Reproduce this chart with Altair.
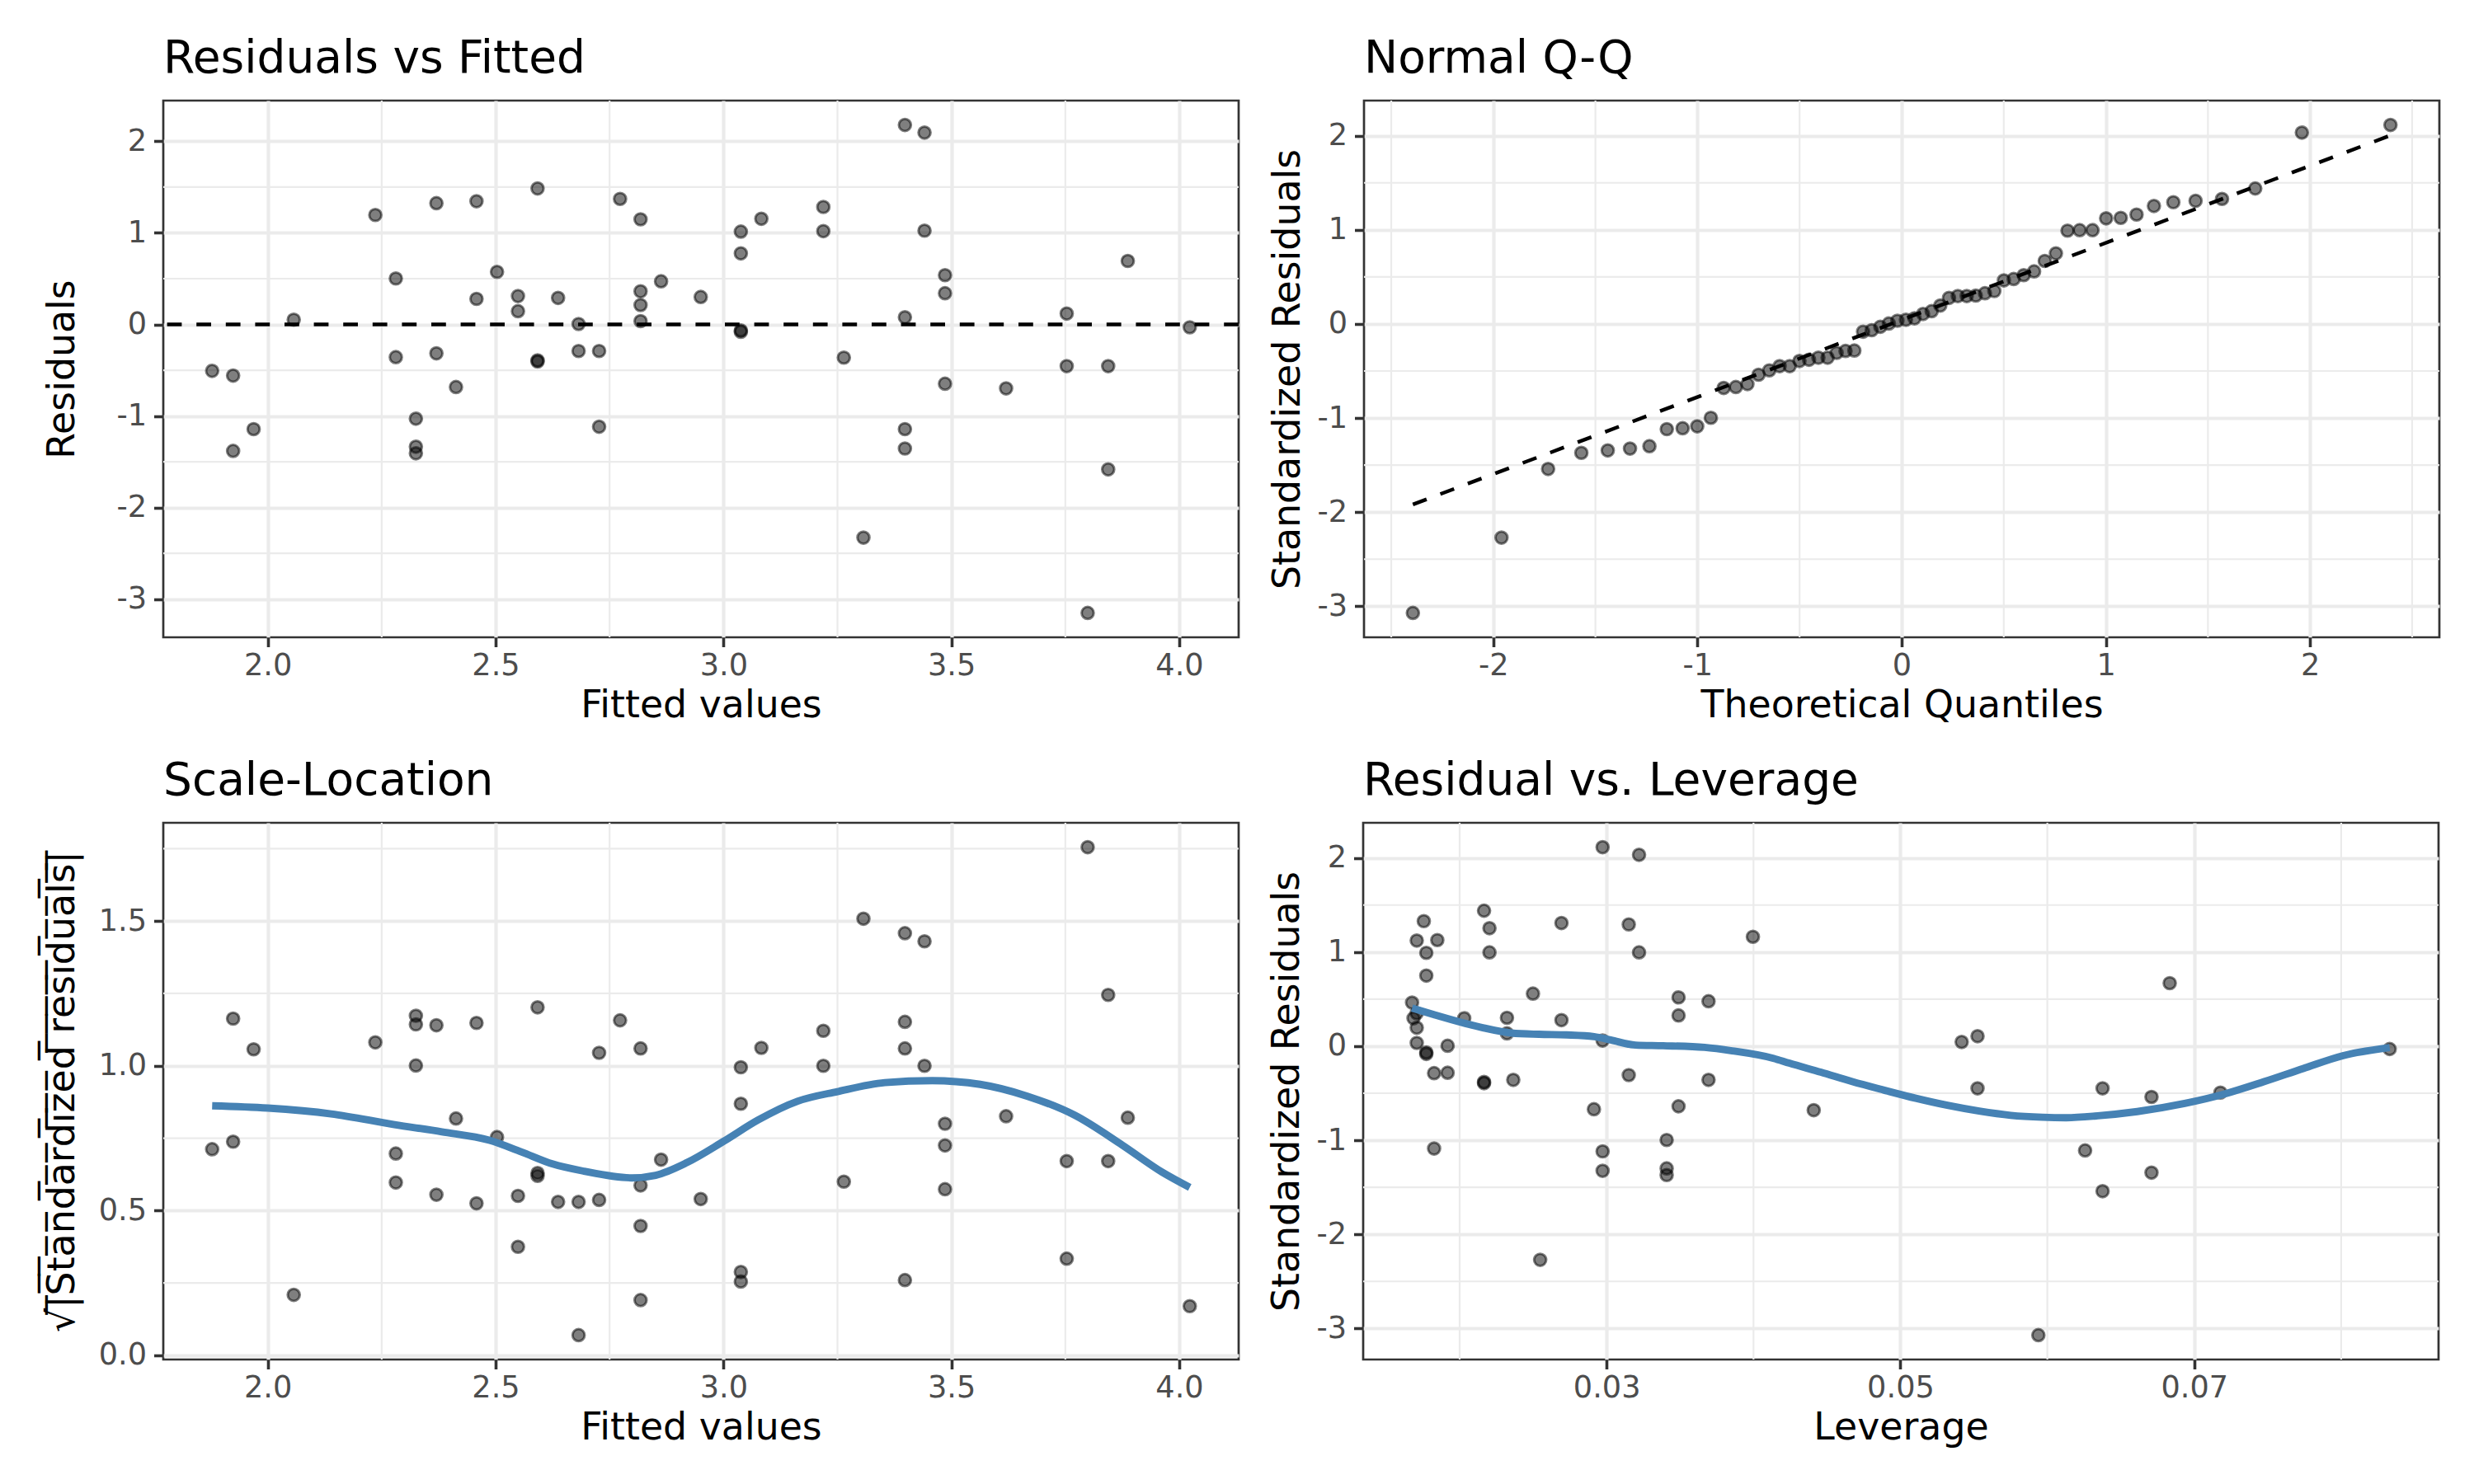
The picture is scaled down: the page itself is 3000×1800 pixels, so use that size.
import altair as alt
import pandas as pd

# ---------------- data ----------------
fitted = [1.878, 1.924, 1.924, 1.969, 2.057, 2.236, 2.281, 2.281, 2.325, 2.325,
          2.325, 2.370, 2.370, 2.413, 2.458, 2.458, 2.503, 2.549, 2.549, 2.592,
          2.592, 2.592, 2.637, 2.682, 2.682, 2.727, 2.727, 2.773, 2.818, 2.818,
          2.818, 2.818, 2.863, 2.950, 3.038, 3.038, 3.038, 3.038, 3.083, 3.219,
          3.219, 3.264, 3.307, 3.398, 3.398, 3.398, 3.398, 3.441, 3.441, 3.486,
          3.486, 3.486, 3.620, 3.753, 3.753, 3.799, 3.844, 3.844, 3.887, 4.023]

residuals = [-0.507, -0.559, -1.381, -1.143, 0.052, 1.195, 0.502, -0.357, -1.029, -1.335,
             -1.407, 1.324, -0.316, -0.683, 1.345, 0.279, 0.574, 0.310, 0.145, 1.485,
             -0.405, -0.392, 0.290, 0.005, -0.290, -0.290, -1.117, 1.371, 1.148, 0.362,
             0.212, 0.036, 0.471, 0.300, 1.014, 0.776, -0.080, -0.065, 1.154, 1.283,
             1.019, -0.362, -2.328, 2.178, 0.078, -1.143, -1.355, 2.095, 1.024, 0.538,
             0.341, -0.647, -0.698, 0.119, -0.455, -3.150, -0.455, -1.583, 0.693, -0.031]

sqrt_std_resid = [0.712, 0.738, 1.163, 1.057, 0.209, 1.081, 0.697, 0.597, 1.001, 1.143,
                  1.173, 1.140, 0.555, 0.818, 1.148, 0.525, 0.754, 0.551, 0.375, 1.202,
                  0.630, 0.620, 0.530, 0.070, 0.530, 0.537, 1.045, 1.157, 1.060, 0.587,
                  0.447, 0.191, 0.676, 0.540, 0.995, 0.869, 0.288, 0.255, 1.062, 1.121,
                  1.000, 0.600, 1.508, 1.458, 0.260, 1.060, 1.152, 1.430, 1.000, 0.725,
                  0.574, 0.800, 0.826, 0.334, 0.671, 1.755, 0.671, 1.245, 0.821, 0.170]

leverage = [0.07178, 0.06709, 0.06709, 0.06257, 0.05417, 0.03996, 0.03694, 0.03694, 0.03409, 0.03409,
            0.03409, 0.03151, 0.03151, 0.02914, 0.02693, 0.02693, 0.02499, 0.02322, 0.02322, 0.02166,
            0.02166, 0.02166, 0.02031, 0.01918, 0.01918, 0.01826, 0.01826, 0.01756, 0.01708, 0.01708,
            0.01708, 0.01708, 0.01676, 0.01686, 0.01773, 0.01773, 0.01773, 0.01773, 0.01848, 0.02203,
            0.02203, 0.02365, 0.02548, 0.02973, 0.02973, 0.02973, 0.02973, 0.03221, 0.03221, 0.03490,
            0.03490, 0.03490, 0.04410, 0.05525, 0.05525, 0.05939, 0.06376, 0.06376, 0.06833, 0.08330]

std_resid = [-0.493, -0.539, -1.344, -1.108, 0.045, 1.163, 0.478, -0.358, -0.997, -1.299,
             -1.370, 1.294, -0.307, -0.670, 1.309, 0.277, 0.559, 0.302, 0.136, 1.440,
             -0.393, -0.380, 0.297, 0.005, -0.282, -0.287, -1.088, 1.329, 1.123, 0.350,
             0.196, 0.035, 0.463, 0.297, 0.992, 0.750, -0.082, -0.066, 1.128, 1.254,
             0.997, -0.358, -2.271, 2.115, 0.060, -1.118, -1.324, 2.034, 0.997, 0.519,
             0.327, -0.639, -0.680, 0.106, -0.448, -3.071, -0.448, -1.541, 0.670, -0.030]

# smoothed curves
sl_curve_x = [1.878, 2.000, 2.139, 2.278, 2.382, 2.486, 2.556, 2.625, 2.694, 2.799, 2.851, 2.920,
              3.000, 3.076, 3.163, 3.250, 3.354, 3.458, 3.563, 3.667, 3.771, 3.875, 3.962, 4.023]
sl_curve_y = [0.862, 0.854, 0.834, 0.797, 0.772, 0.743, 0.703, 0.661, 0.636, 0.613, 0.622, 0.666,
              0.739, 0.813, 0.878, 0.911, 0.942, 0.949, 0.936, 0.895, 0.829, 0.726, 0.633, 0.580]

lev_curve_x = [0.01676, 0.01826, 0.02014, 0.02164, 0.02352, 0.02540, 0.02728, 0.02915, 0.03028,
               0.03197, 0.03385, 0.03667, 0.03855, 0.04136, 0.04244, 0.04459, 0.04674, 0.04890,
               0.05105, 0.05320, 0.05536, 0.05751, 0.05966, 0.06128, 0.06343, 0.06612, 0.06935,
               0.07205, 0.07474, 0.07743, 0.08012, 0.08330]
lev_curve_y = [0.405, 0.335, 0.252, 0.194, 0.140, 0.126, 0.120, 0.102, 0.066,
               0.012, 0.005, -0.013, -0.049, -0.129, -0.181, -0.277, -0.378, -0.468,
               -0.554, -0.629, -0.690, -0.735, -0.755, -0.760, -0.740, -0.695, -0.609,
               -0.509, -0.378, -0.237, -0.101, -0.015]

qq_line_x = [-2.394, 2.394]
qq_line_y = [-1.918, 2.004]

# axis breaks
fit_major = [2.0, 2.5, 3.0, 3.5, 4.0]
fit_minor = [2.25, 2.75, 3.25, 3.75]
res_major = [-3, -2, -1, 0, 1, 2]
res_minor = [-2.5, -1.5, -0.5, 0.5, 1.5]
qq_major = [-2, -1, 0, 1, 2]
qq_minor = [-2.5, -1.5, -0.5, 0.5, 1.5, 2.5]
sl_major = [0.0, 0.5, 1.0, 1.5]
sl_minor = [0.25, 0.75, 1.25, 1.75]
lev_major = [0.03, 0.05, 0.07]
lev_minor = [0.02, 0.04, 0.06, 0.08]

# ---------------- styling ----------------
FONT = "DejaVu Sans"
W, H = 1304, 651
GRID = "#EBEBEB"
PT_SIZE = 215
CURVE = "#4682B4"
DASH = [17.8, 17.8]

df = pd.DataFrame({"fitted": fitted, "resid": residuals, "sl": sqrt_std_resid,
                   "lev": leverage, "std": std_resid})


def expand(vals):
    lo, hi = min(vals), max(vals)
    r = hi - lo
    return [lo - 0.05 * r, hi + 0.05 * r]


def enc(ch, field, domain, values, title, fmt=None, expr=None, title_x=None):
    ax = dict(values=values, title=title)
    if fmt is not None:
        ax["format"] = fmt
    if expr is not None:
        ax["labelExpr"] = expr
    if title_x is not None:
        ax["titleX"] = title_x
        ax["titleY"] = H / 2
    scale = alt.Scale(domain=domain, zero=False, nice=False)
    if ch == "x":
        return alt.X(f"{field}:Q", scale=scale, axis=alt.Axis(**ax))
    return alt.Y(f"{field}:Q", scale=scale, axis=alt.Axis(**ax))


def points(chart, X, Y):
    return chart.mark_circle(size=PT_SIZE, color="black", opacity=1, fillOpacity=0.5,
                             stroke="black", strokeOpacity=0.5, strokeWidth=3).encode(x=X, y=Y)


def minor(xfield, xvals, yfield, yvals, X, Y):
    mx = alt.Chart(pd.DataFrame({xfield: xvals})).mark_rule(color=GRID, strokeWidth=2.2).encode(x=X)
    my = alt.Chart(pd.DataFrame({yfield: yvals})).mark_rule(color=GRID, strokeWidth=2.2).encode(y=Y)
    return [mx, my]


def ttl(text):
    return alt.TitleParams(text=text, frame="group", anchor="start")


NEG = "'' + datum.value"

# Panel 1: Residuals vs Fitted
X1 = enc("x", "fitted", expand(fitted), fit_major, "Fitted values", fmt=".1f")
Y1 = enc("y", "resid", expand(residuals), res_major, "Residuals", expr=NEG, title_x=-109)
hline = alt.Chart(pd.DataFrame({"resid": [0]})).mark_rule(
    color="black", strokeWidth=4.45, strokeDash=DASH).encode(y=Y1)
p1 = alt.layer(*minor("fitted", fit_minor, "resid", res_minor, X1, Y1),
               points(alt.Chart(df), X1, Y1), hline).properties(
    width=W, height=H, title=ttl("Residuals vs Fitted"))

# Panel 2: Normal Q-Q
X2 = enc("x", "theo", expand(qq_line_x), qq_major, "Theoretical Quantiles", expr=NEG)
Y2 = enc("y", "std", expand(std_resid), res_major, "Standardized Residuals", expr=NEG, title_x=-79)
qq_pts = alt.Chart(df).transform_window(
    qi="row_number()", sort=[alt.SortField("std", order="ascending")]
).transform_joinaggregate(qn="count()").transform_calculate(
    theo="quantileNormal((datum.qi - 0.5) / datum.qn)")
qq_line = alt.Chart(pd.DataFrame({"theo": qq_line_x, "std": qq_line_y})).mark_line(
    color="black", strokeWidth=4.45, strokeDash=DASH).encode(x=X2, y=Y2)
p2 = alt.layer(*minor("theo", qq_minor, "std", res_minor, X2, Y2),
               points(qq_pts, X2, Y2), qq_line).properties(
    width=W, height=H, title=ttl("Normal Q-Q"))

# Panel 3: Scale-Location
sqrt_title = "\u221a" + "".join(c + "\u0305" for c in "|Standardized residuals|")
X3 = enc("x", "fitted", expand(fitted), fit_major, "Fitted values", fmt=".1f")
Y3 = enc("y", "sl", expand(sqrt_std_resid), sl_major, sqrt_title, fmt=".1f", title_x=-109)
sl_curve = alt.Chart(pd.DataFrame({"fitted": sl_curve_x, "sl": sl_curve_y})).mark_line(
    color=CURVE, strokeWidth=8.9, interpolate="monotone").encode(x=X3, y=Y3)
p3 = alt.layer(*minor("fitted", fit_minor, "sl", sl_minor, X3, Y3),
               points(alt.Chart(df), X3, Y3), sl_curve).properties(
    width=W, height=H, title=ttl("Scale-Location"))

# Panel 4: Residual vs. Leverage
X4 = enc("x", "lev", expand(leverage), lev_major, "Leverage", fmt=".2f")
Y4 = enc("y", "std", expand(std_resid), res_major, "Standardized Residuals", expr=NEG, title_x=-79)
lev_curve = alt.Chart(pd.DataFrame({"lev": lev_curve_x, "std": lev_curve_y})).mark_line(
    color=CURVE, strokeWidth=8.9, interpolate="monotone").encode(x=X4, y=Y4)
p4 = alt.layer(*minor("lev", lev_minor, "std", res_minor, X4, Y4),
               points(alt.Chart(df), X4, Y4), lev_curve).properties(
    width=W, height=H, title=ttl("Residual vs. Leverage"))

row1 = alt.hconcat(p1, p2, spacing=30)
row2 = alt.hconcat(p3, p4, spacing=30)
chart = alt.vconcat(row1, row2, spacing=38).properties(
    padding={"left": 42, "top": 34, "right": 20, "bottom": 10}
).configure(font=FONT, background="white").configure_view(
    stroke="#333333", strokeWidth=2.7
).configure_axis(
    domain=False, grid=True, gridColor=GRID, gridWidth=4.2,
    tickColor="#333333", tickWidth=3.6, tickSize=11.5,
    labelFont=FONT, labelFontSize=36.7, labelColor="#4D4D4D",
    titleFont=FONT, titleFontSize=45.8, titleColor="#000000", titleFontWeight="normal",
).configure_axisX(labelPadding=4.5, titlePadding=8).configure_axisY(
    labelPadding=9, titleBaseline="alphabetic"
).configure_title(
    font=FONT, fontSize=55, anchor="start", fontWeight="normal", color="#000000",
    baseline="alphabetic", offset=21
)

chart.save("out.html", embed_options={"renderer": "svg", "actions": False})
